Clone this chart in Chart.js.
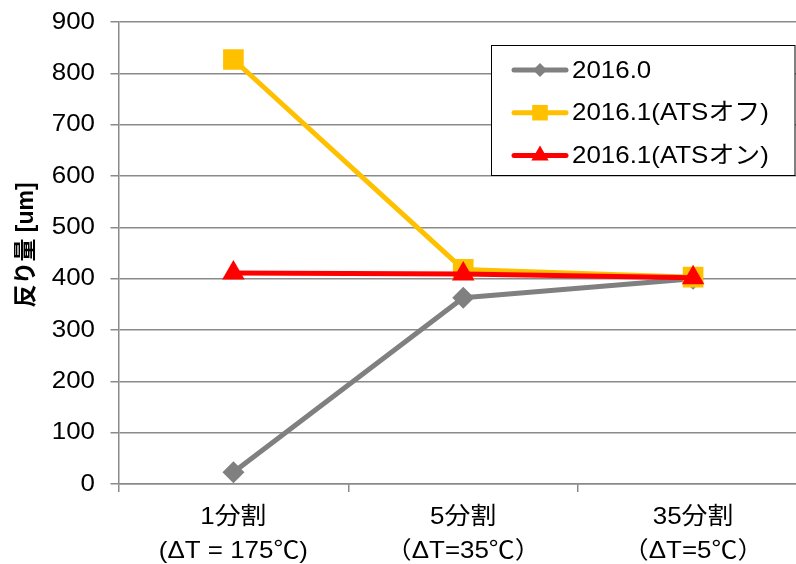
<!DOCTYPE html>
<html>
<head>
<meta charset="utf-8">
<script src="https://cdn.jsdelivr.net/npm/chart.js@4.4.1/dist/chart.umd.min.js"></script>
<style>
  html, body { margin: 0; padding: 0; background: #fff; overflow: hidden; }
  #wrap { position: relative; width: 830px; height: 564px; }
</style>
</head>
<body>
<div id="wrap"><canvas id="warpChart"></canvas></div>
<script>
// Categories: number of divisions, with the temperature step per division
const categories = [
  ['1分割', '(ΔT = 175℃)'],
  ['5分割', '（ΔT=35℃）'],
  ['35分割', '（ΔT=5℃）']
];
const seriesNames = ['2016.0', '2016.1(ATSオフ)', '2016.1(ATSオン)'];
// Warpage values [um]
const warp2016_0 = [23, 363, 400];
const warpAtsOff = [827, 418, 403];
const warpAtsOn = [411, 409, 402];
// Value axis
const yMin = 0;
const yMax = 900;
const yStep = 100;
const axisTitle = '反り量 [um]';

const FONT = '"Liberation Sans", Arial, "Noto Sans CJK JP", sans-serif';
const FONT_SIZE = 24;
const GRID = '#8a8a8a';
const TEXT_STRETCH = 1.08;

// Labels in this chart use a wide face: stretch every text run horizontally about its anchor
const wideText = {
  id: 'wideText',
  beforeDraw(chart) {
    const ctx = chart.ctx;
    if (ctx.plainFillText) return;
    ctx.plainFillText = ctx.fillText;
    ctx.fillText = function (text, x, y, maxWidth) {
      this.save();
      this.translate(x, y);
      this.scale(TEXT_STRETCH, 1);
      if (maxWidth === undefined) this.plainFillText(text, 0, 0);
      else this.plainFillText(text, 0, 0, maxWidth / TEXT_STRETCH);
      this.restore();
    };
  }
};

// Boxed legend inside the plot, upper right
const boxLegend = {
  id: 'boxLegend',
  afterDatasetsDraw(chart, args, o) {
    const ctx = chart.ctx;
    ctx.save();
    ctx.fillStyle = '#fff';
    ctx.fillRect(o.left, o.top, o.width, o.height);
    ctx.strokeStyle = '#000';
    ctx.lineWidth = 1;
    ctx.strokeRect(o.left, o.top, o.width, o.height);
    chart.data.datasets.forEach((ds, i) => {
      const y = o.top + o.firstRow + i * o.rowGap;
      ctx.strokeStyle = ds.borderColor;
      ctx.lineWidth = ds.borderWidth;
      ctx.lineCap = 'round';
      ctx.beginPath();
      ctx.moveTo(o.lineX1, y);
      ctx.lineTo(o.lineX2, y);
      ctx.stroke();
      ctx.fillStyle = ds.pointBackgroundColor;
      Chart.helpers.drawPoint(ctx, {
        pointStyle: ds.pointStyle, radius: o.markerRadius[i], borderWidth: 0, rotation: 0
      }, (o.lineX1 + o.lineX2) / 2, y);
      ctx.fillStyle = '#000';
      ctx.font = FONT_SIZE + 'px ' + FONT;
      ctx.textAlign = 'left';
      ctx.textBaseline = 'middle';
      ctx.fillText(ds.label, o.textX, y + 1);
    });
    ctx.restore();
  },
  afterDraw(chart) {
    // Rotated value-axis title
    const ctx = chart.ctx;
    ctx.save();
    ctx.translate(27, 245);
    ctx.rotate(-Math.PI / 2);
    ctx.font = 'bold 23px ' + FONT;
    ctx.fillStyle = '#000';
    ctx.textAlign = 'center';
    ctx.textBaseline = 'middle';
    (ctx.plainFillText || ctx.fillText).call(ctx, axisTitle, 0, 0);
    ctx.restore();
  }
};

const seriesStyle = [
  { color: '#808080', point: 'rectRot', r: 11 },
  { color: '#FFC000', point: 'rect', r: 14.6 },
  { color: '#FF0000', point: 'triangle', r: 13 }
];
const seriesValues = [warp2016_0, warpAtsOff, warpAtsOn];

const datasets = seriesValues.map((vals, i) => ({
  label: seriesNames[i],
  data: vals,
  borderColor: seriesStyle[i].color,
  backgroundColor: seriesStyle[i].color,
  pointBackgroundColor: seriesStyle[i].color,
  pointBorderColor: seriesStyle[i].color,
  pointBorderWidth: 0,
  borderWidth: 5,
  borderJoinStyle: 'round',
  borderCapStyle: 'round',
  pointStyle: seriesStyle[i].point,
  pointRadius: seriesStyle[i].r,
  pointHoverRadius: seriesStyle[i].r,
  tension: 0,
  order: 3 - i
}));

new Chart(document.getElementById('warpChart'), {
  type: 'line',
  data: { labels: categories, datasets },
  plugins: [wideText, boxLegend],
  options: {
    responsive: true,
    maintainAspectRatio: false,
    animation: false,
    layout: { autoPadding: false, padding: { top: 22, right: 22, bottom: 0, left: 0 } },
    plugins: {
      legend: { display: false },
      tooltip: { enabled: false },
      boxLegend: {
        left: 491.5, top: 45.5, width: 303.5, height: 130,
        firstRow: 24.5, rowGap: 42.7,
        lineX1: 514, lineX2: 566, textX: 572,
        markerRadius: [7, 11, 10]
      }
    },
    scales: {
      x: {
        type: 'category',
        offset: true,
        grid: { offset: true, drawOnChartArea: false, drawTicks: true, tickLength: 8, color: GRID, lineWidth: 1.5 },
        border: { display: true, color: GRID, width: 1.5 },
        ticks: {
          font: { family: FONT, size: FONT_SIZE, lineHeight: 1.4 },
          color: '#000', padding: 9, maxRotation: 0, autoSkip: false
        },
        afterFit(s) { s.height = 80; }
      },
      y: {
        min: yMin,
        max: yMax,
        grid: { color: GRID, lineWidth: 1.5, tickLength: 8, drawTicks: true },
        border: { display: true, color: GRID, width: 1.5 },
        ticks: {
          stepSize: yStep,
          font: { family: FONT, size: FONT_SIZE },
          color: '#000', padding: 15.5
        },
        afterFit(s) {
          s.width = 118.5;
          s.paddingTop = 0;
          s.paddingBottom = 0;
        }
      }
    }
  }
});
</script>
</body>
</html>
